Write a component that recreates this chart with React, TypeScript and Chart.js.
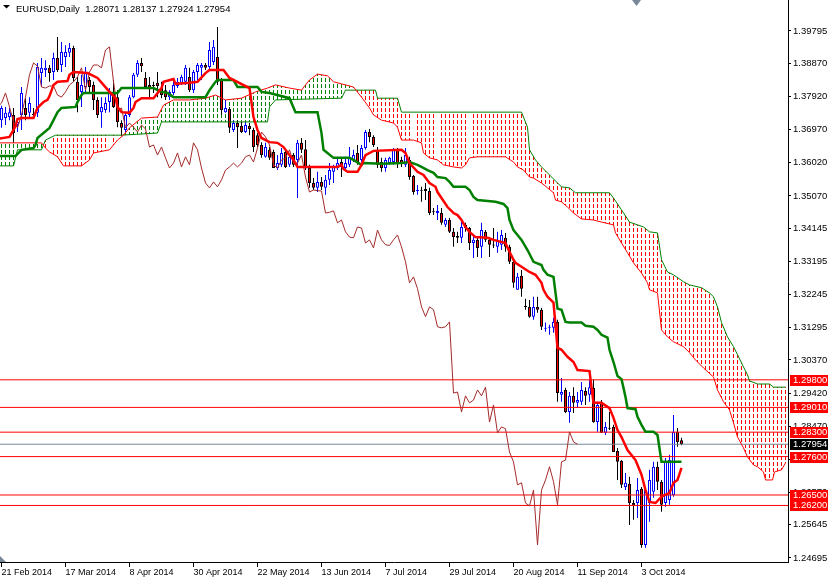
import React, { useEffect, useRef } from 'react';
import { Chart, registerables } from 'chart.js';

Chart.register(...registerables);

// ---------- data (EURUSD daily) ----------
const xTickBars = [0, 16, 32, 48, 64, 80, 96, 112, 128, 144, 160];
const xTickLabels = ['21 Feb 2014', '17 Mar 2014', '8 Apr 2014', '30 Apr 2014', '22 May 2014', '13 Jun 2014', '7 Jul 2014', '29 Jul 2014', '20 Aug 2014', '11 Sep 2014', '3 Oct 2014'];
const yTickValues = [1.24695, 1.25645, 1.2657, 1.2752, 1.2847, 1.2942, 1.3037, 1.31295, 1.32245, 1.33195, 1.34145, 1.3507, 1.3602, 1.3697, 1.3792, 1.3887, 1.39795];

const opens = [
  1.3724, 1.3730, 1.3733, 1.3739, 1.3710, 1.3739, 1.3759, 1.3745, 1.3742, 1.3745,
  1.3859, 1.3868, 1.3874, 1.3862, 1.3902, 1.3882, 1.3905, 1.3917, 1.3931, 1.3834,
  1.3805, 1.3819, 1.3839, 1.3825, 1.3782, 1.3747, 1.3753, 1.3776, 1.3802, 1.3790,
  1.3716, 1.3696, 1.3739, 1.3790, 1.3854, 1.3888, 1.3845, 1.3825, 1.3825, 1.3831,
  1.3816, 1.3810, 1.3790, 1.3802, 1.3822, 1.3831, 1.3834, 1.3848, 1.3810, 1.3862,
  1.3874, 1.3882, 1.3876, 1.3891, 1.3905, 1.3839, 1.3747, 1.3756, 1.3696, 1.3716,
  1.3707, 1.3690, 1.3707, 1.3696, 1.3681, 1.3653, 1.3619, 1.3639, 1.3633, 1.3587,
  1.3596, 1.3633, 1.3596, 1.3624, 1.3610, 1.3659, 1.3641, 1.3587, 1.3544, 1.3530,
  1.3547, 1.3530, 1.3553, 1.3576, 1.3587, 1.3604, 1.3587, 1.3596, 1.3610, 1.3630,
  1.3610, 1.3644, 1.3690, 1.3676, 1.3639, 1.3604, 1.3587, 1.3601, 1.3604, 1.3639,
  1.3610, 1.3596, 1.3610, 1.3564, 1.3521, 1.3524, 1.3527, 1.3521, 1.3461, 1.3458,
  1.3458, 1.3424, 1.3438, 1.3404, 1.3392, 1.3387, 1.3424, 1.3415, 1.3372, 1.3381,
  1.3361, 1.3404, 1.3381, 1.3367, 1.3361, 1.3367, 1.3387, 1.3361, 1.3318, 1.3238,
  1.3278, 1.3192, 1.3189, 1.3161, 1.3189, 1.3181, 1.3126, 1.3129, 1.3129, 1.3146,
  1.2937, 1.2951, 1.2888, 1.2934, 1.2914, 1.2917, 1.2948, 1.2937, 1.2957, 1.2859,
  1.2917, 1.2828, 1.2842, 1.2845, 1.2776, 1.2748, 1.2673, 1.2682, 1.2627, 1.2627,
  1.2668, 1.2507, 1.2627, 1.2659, 1.2731, 1.2688, 1.2627, 1.2636, 1.2650, 1.2831,
  1.28071,
];
const highs = [
  1.3765, 1.3762, 1.3759, 1.3759, 1.3730, 1.3819, 1.3787, 1.3790, 1.3759, 1.3888,
  1.3902, 1.3896, 1.3882, 1.3917, 1.3962, 1.3948, 1.3939, 1.3945, 1.3937, 1.3848,
  1.3854, 1.3876, 1.3848, 1.3834, 1.3790, 1.3790, 1.3790, 1.3816, 1.3839, 1.3810,
  1.3724, 1.3745, 1.3796, 1.3859, 1.3896, 1.3902, 1.3862, 1.3848, 1.3834, 1.3862,
  1.3834, 1.3825, 1.3810, 1.3839, 1.3845, 1.3854, 1.3882, 1.3874, 1.3868, 1.3888,
  1.3888, 1.3888, 1.3948, 1.3954, 1.3991, 1.3845, 1.3782, 1.3762, 1.3724, 1.3724,
  1.3719, 1.3719, 1.3716, 1.3702, 1.3687, 1.3661, 1.3659, 1.3647, 1.3639, 1.3624,
  1.3644, 1.3639, 1.3624, 1.3630, 1.3667, 1.3673, 1.3667, 1.3596, 1.3558, 1.3576,
  1.3561, 1.3567, 1.3601, 1.3596, 1.3616, 1.3616, 1.3619, 1.3647, 1.3639, 1.3653,
  1.3653, 1.3696, 1.3699, 1.3681, 1.3647, 1.3616, 1.3616, 1.3619, 1.3644, 1.3644,
  1.3619, 1.3644, 1.3619, 1.3567, 1.3538, 1.3533, 1.3544, 1.3530, 1.3472, 1.3481,
  1.3472, 1.3444, 1.3444, 1.3415, 1.3404, 1.3441, 1.3430, 1.3418, 1.3389, 1.3389,
  1.3430, 1.3409, 1.3389, 1.3415, 1.3404, 1.3409, 1.3401, 1.3367, 1.3324, 1.3286,
  1.3295, 1.3212, 1.3209, 1.3218, 1.3218, 1.3186, 1.3144, 1.3138, 1.3158, 1.3152,
  1.2985, 1.2957, 1.2945, 1.2959, 1.2945, 1.2974, 1.2959, 1.2980, 1.2980, 1.2917,
  1.2922, 1.2859, 1.2888, 1.2851, 1.2785, 1.2750, 1.2713, 1.2702, 1.2636, 1.2699,
  1.2673, 1.2673, 1.2722, 1.2745, 1.2745, 1.2693, 1.2756, 1.2765, 1.2879, 1.2842,
  1.28137,
];
const lows = [
  1.3702, 1.3710, 1.3724, 1.3659, 1.3690, 1.3696, 1.3724, 1.3733, 1.3733, 1.3733,
  1.3819, 1.3848, 1.3834, 1.3839, 1.3862, 1.3862, 1.3876, 1.3905, 1.3834, 1.3747,
  1.3762, 1.3805, 1.3802, 1.3753, 1.3730, 1.3702, 1.3745, 1.3747, 1.3759, 1.3704,
  1.3681, 1.3690, 1.3733, 1.3787, 1.3848, 1.3862, 1.3816, 1.3790, 1.3802, 1.3790,
  1.3787, 1.3782, 1.3782, 1.3796, 1.3816, 1.3825, 1.3825, 1.3805, 1.3802, 1.3839,
  1.3839, 1.3868, 1.3868, 1.3882, 1.3825, 1.3739, 1.3745, 1.3687, 1.3690, 1.3644,
  1.3687, 1.3687, 1.3681, 1.3633, 1.3647, 1.3616, 1.3616, 1.3610, 1.3587, 1.3581,
  1.3590, 1.3587, 1.3590, 1.3590, 1.3501, 1.3630, 1.3581, 1.3530, 1.3524, 1.3518,
  1.3524, 1.3510, 1.3538, 1.3544, 1.3581, 1.3561, 1.3581, 1.3590, 1.3604, 1.3596,
  1.3604, 1.3639, 1.3661, 1.3647, 1.3587, 1.3576, 1.3576, 1.3596, 1.3596, 1.3587,
  1.3590, 1.3590, 1.3553, 1.3510, 1.3510, 1.3490, 1.3495, 1.3452, 1.3452, 1.3438,
  1.3424, 1.3418, 1.3401, 1.3361, 1.3372, 1.3372, 1.3404, 1.3352, 1.3329, 1.3332,
  1.3329, 1.3375, 1.3332, 1.3358, 1.3344, 1.3352, 1.3347, 1.3312, 1.3244, 1.3238,
  1.3218, 1.3181, 1.3158, 1.3152, 1.3172, 1.3123, 1.3118, 1.3109, 1.3115, 1.2917,
  1.2917, 1.2885, 1.2857, 1.2885, 1.2899, 1.2908, 1.2908, 1.2917, 1.2857, 1.2831,
  1.2828, 1.2822, 1.2836, 1.2773, 1.2693, 1.2670, 1.2664, 1.2564, 1.2579, 1.2584,
  1.2499, 1.2499, 1.2573, 1.2642, 1.2664, 1.2602, 1.2616, 1.2622, 1.2645, 1.2788,
  1.27924,
];
const closes = [
  1.3759, 1.3745, 1.3747, 1.3687, 1.3719, 1.3802, 1.3739, 1.3773, 1.3739, 1.3876,
  1.3874, 1.3874, 1.3859, 1.3902, 1.3868, 1.3919, 1.3919, 1.3931, 1.3845, 1.3782,
  1.3825, 1.3862, 1.3819, 1.3782, 1.3739, 1.3762, 1.3773, 1.3802, 1.3762, 1.3719,
  1.3702, 1.3739, 1.3790, 1.3854, 1.3888, 1.3879, 1.3819, 1.3816, 1.3822, 1.3822,
  1.3796, 1.3790, 1.3805, 1.3825, 1.3834, 1.3848, 1.3874, 1.3810, 1.3862, 1.3882,
  1.3882, 1.3874, 1.3925, 1.3934, 1.3834, 1.3753, 1.3759, 1.3702, 1.3716, 1.3704,
  1.3690, 1.3710, 1.3699, 1.3647, 1.3653, 1.3624, 1.3647, 1.3616, 1.3587, 1.3601,
  1.3630, 1.3590, 1.3619, 1.3596, 1.3659, 1.3639, 1.3587, 1.3544, 1.3530, 1.3547,
  1.3533, 1.3553, 1.3581, 1.3590, 1.3601, 1.3590, 1.3601, 1.3619, 1.3624, 1.3604,
  1.3644, 1.3690, 1.3676, 1.3653, 1.3596, 1.3587, 1.3610, 1.3616, 1.3639, 1.3601,
  1.3601, 1.3624, 1.3561, 1.3518, 1.3524, 1.3522, 1.3521, 1.3458, 1.3460, 1.3464,
  1.3430, 1.3438, 1.3404, 1.3389, 1.3387, 1.3418, 1.3415, 1.3372, 1.3381, 1.3358,
  1.3409, 1.3381, 1.3367, 1.3365, 1.3381, 1.3395, 1.3361, 1.3318, 1.3258, 1.3275,
  1.3241, 1.3189, 1.3161, 1.3189, 1.3181, 1.3132, 1.3129, 1.3132, 1.3146, 1.2942,
  1.2945, 1.2888, 1.2934, 1.2914, 1.2922, 1.2951, 1.2934, 1.2959, 1.2859, 1.2908,
  1.2828, 1.2845, 1.2840, 1.2773, 1.2745, 1.2679, 1.2685, 1.2627, 1.2619, 1.2664,
  1.2507, 1.2664, 1.2693, 1.2731, 1.2688, 1.2622, 1.2745, 1.2750, 1.2831, 1.2802,
  1.27954,
];

// Ichimoku lines as [bar, price] vertices
const tenkanPts = [
  [-1, 1.3670], [2, 1.3676], [3, 1.3696], [3.5, 1.3707], [4, 1.3727], [5, 1.3730], [8, 1.3730], [8.5, 1.3745], [9, 1.3759], [10.5, 1.3776],
  [11.5, 1.3782], [12, 1.3793], [13, 1.3825], [14, 1.3834], [16.5, 1.3836], [17, 1.3854], [18, 1.3862], [21.5, 1.3859], [24, 1.3845], [25.5, 1.3825],
  [27, 1.3805], [28.5, 1.3787], [29, 1.3762], [30, 1.3747], [32, 1.3745], [33, 1.3759], [33.5, 1.3776], [35, 1.3787], [38, 1.3787], [40, 1.3816],
  [40.5, 1.3834], [43, 1.3842], [43.5, 1.3828], [47, 1.3831], [49, 1.3834], [51, 1.3859], [52, 1.3868], [55.5, 1.3868], [57, 1.3845], [62, 1.3816],
  [63, 1.3733], [64, 1.3696], [65, 1.3673], [67, 1.3661], [69, 1.3659], [70.5, 1.3647], [72, 1.3624], [73, 1.3610], [74, 1.3590], [84, 1.3590],
  [85, 1.3596], [85.5, 1.3584], [86.5, 1.3576], [89, 1.3576], [90, 1.3596], [91, 1.3624], [93, 1.3636], [100, 1.3639], [101, 1.3630], [102, 1.3601],
  [104, 1.3576], [105.5, 1.3567], [107, 1.3544], [108.5, 1.3533], [109, 1.3518], [110, 1.3501], [111.5, 1.3475], [113, 1.3458], [114, 1.3452], [115, 1.3438],
  [116, 1.3418], [117, 1.3404], [118.5, 1.3389], [121.5, 1.3387], [123, 1.3381], [126, 1.3372], [127, 1.3347], [128, 1.3324], [128.5, 1.3315], [130, 1.3304],
  [132, 1.3289], [133.5, 1.3281], [135, 1.3258], [135.5, 1.3238], [136.5, 1.3218], [138, 1.3201], [139, 1.3072], [140, 1.3066], [141.5, 1.3046], [143, 1.3031],
  [144, 1.3008], [147, 1.3005], [148, 1.2914], [150, 1.2914], [152, 1.2899], [153, 1.2871], [154, 1.2836], [155, 1.2816], [156.5, 1.2779], [158.5, 1.2750],
  [160, 1.2708], [161, 1.2664], [162, 1.2630], [163.5, 1.2627], [165, 1.2645], [167, 1.2656], [168, 1.2685], [169, 1.2693], [170, 1.2728],
];
const kijunPts = [
  [-1, 1.3621], [3.5, 1.3621], [5, 1.3639], [8, 1.3644], [8.5, 1.3653], [9, 1.3673], [12, 1.3702], [13, 1.3724], [14, 1.3747], [15, 1.3759],
  [18.5, 1.3762], [19, 1.3776], [20, 1.3796], [20.5, 1.3802], [29, 1.3802], [30, 1.3816], [38, 1.3816], [40, 1.3805], [41.5, 1.3802], [43, 1.3790],
  [51, 1.3790], [52, 1.3810], [53.5, 1.3834], [54, 1.3839], [58, 1.3839], [59, 1.3819], [64, 1.3819], [65, 1.3805], [67, 1.3802], [72, 1.3787],
  [73.5, 1.3747], [79, 1.3747], [80, 1.3687], [80.5, 1.3639], [83, 1.3616], [87, 1.3616], [88, 1.3610], [90, 1.3596], [90.5, 1.3601], [95, 1.3599],
  [100, 1.3601], [102, 1.3604], [104, 1.3596], [105, 1.3590], [106.5, 1.3581], [108, 1.3573], [109, 1.3561], [111, 1.3558], [112, 1.3547], [113, 1.3533],
  [116, 1.3533], [117, 1.3524], [118, 1.3504], [119, 1.3495], [123.5, 1.3490], [125.5, 1.3484], [126.5, 1.3472], [127, 1.3438], [128, 1.3409], [130, 1.3381],
  [131.5, 1.3352], [133, 1.3318], [135, 1.3309], [135.5, 1.3295], [136.5, 1.3281], [138, 1.3275], [139, 1.3184], [140, 1.3181], [141, 1.3146], [142, 1.3144],
  [145, 1.3144], [146, 1.3135], [148, 1.3132], [149, 1.3123], [150, 1.3109], [151.5, 1.3101], [152, 1.3066], [153, 1.3031], [154, 1.2991], [155, 1.2982],
  [155.5, 1.2957], [156, 1.2931], [156.5, 1.2899], [158.5, 1.2896], [159, 1.2874], [160, 1.2851], [161, 1.2831], [163, 1.2831], [164, 1.2822], [165, 1.2745],
  [170, 1.2745],
];
const spanAPts = [
  [-1, 1.3659], [10, 1.3659], [11, 1.3644], [12, 1.3633], [14, 1.3619], [15.5, 1.3593], [20, 1.3593], [22, 1.3610], [23, 1.3630], [27, 1.3639],
  [29, 1.3667], [30.5, 1.3681], [32, 1.3702], [35, 1.3730], [39, 1.3733], [40.5, 1.3767], [43, 1.3782], [47, 1.3782], [51, 1.3787], [53.5, 1.3796],
  [56, 1.3782], [60, 1.3787], [63.5, 1.3805], [66.5, 1.3816], [68.5, 1.3825], [72, 1.3816], [75, 1.3810], [76, 1.3825], [77, 1.3839], [79, 1.3856],
  [81.5, 1.3851], [83, 1.3834], [85, 1.3828], [88, 1.3819], [90, 1.3790], [92, 1.3759], [93, 1.3739], [95, 1.3724], [98, 1.3716], [99, 1.3704],
  [100, 1.3667], [103, 1.3667], [105, 1.3659], [105.5, 1.3630], [107, 1.3616], [109, 1.3610], [110.5, 1.3596], [113, 1.3590], [115, 1.3587], [116, 1.3596],
  [117, 1.3616], [119, 1.3619], [126, 1.3619], [128, 1.3604], [129, 1.3590], [130.5, 1.3581], [132, 1.3561], [133, 1.3558], [135, 1.3544], [136.5, 1.3530],
  [138, 1.3516], [138.5, 1.3495], [140, 1.3490], [141.5, 1.3475], [143, 1.3458], [145, 1.3441], [148, 1.3438], [150, 1.3432], [153, 1.3424], [153.5, 1.3401],
  [155, 1.3372], [156.5, 1.3344], [158, 1.3315], [160, 1.3286], [161.5, 1.3258], [162, 1.3238], [164, 1.3229], [165, 1.3123], [166.5, 1.3103], [168, 1.3089],
  [170.5, 1.3075], [172, 1.3058], [173.5, 1.3037], [175.5, 1.3014], [178, 1.2988], [179, 1.2951], [180.5, 1.2917], [182, 1.2894], [183, 1.2857], [184, 1.2816],
  [185.5, 1.2785], [186.5, 1.2759], [188, 1.2736], [189, 1.2731], [190.5, 1.2716], [191, 1.2693], [192.75, 1.2693], [193.25, 1.2716], [195, 1.2722], [196, 1.2742],
];
const spanBPts = [
  [-1, 1.3593], [3, 1.3593], [4, 1.3639], [10, 1.3639], [11, 1.3667], [13.5, 1.3681], [30, 1.3681], [39, 1.3687], [40, 1.3719], [66.5, 1.3719],
  [67, 1.3762], [68.5, 1.3782], [85, 1.3787], [86, 1.3810], [93.5, 1.3810], [94, 1.3787], [99, 1.3787], [100, 1.3747], [130, 1.3747], [131.5, 1.3704],
  [132, 1.3639], [133.5, 1.3610], [135, 1.3590], [137, 1.3567], [139, 1.3544], [140, 1.3533], [142, 1.3530], [143.5, 1.3516], [152, 1.3516], [153, 1.3501],
  [155, 1.3467], [157, 1.3432], [160.5, 1.3418], [162, 1.3404], [164, 1.3401], [165, 1.3324], [166.5, 1.3289], [168, 1.3281], [170.5, 1.3261], [172, 1.3252],
  [175, 1.3244], [177, 1.3229], [178, 1.3218], [179, 1.3189], [180, 1.3144], [181.5, 1.3103], [183, 1.3075], [184, 1.3052], [185.5, 1.3017], [186.5, 1.2994],
  [187, 1.2977], [189, 1.2968], [192, 1.2968], [193, 1.2959], [196, 1.2959],
];
const chikouShift = 26;
const cloudLastBar = 196;

const levels = [1.298, 1.2901, 1.283, 1.276, 1.265, 1.262];
const currentPrice = 1.27954;
const symbolTitle = 'EURUSD,Daily';

// ---------- styling ----------
const FONT = '"Liberation Sans", Arial, sans-serif';
const X_MIN = -0.375;
const X_MAX = 196.625;
const Y_MIN = 1.2458;
const Y_MAX = 1.40683;
const SPAN_A_INDEX = 3;
const SPAN_B_INDEX = 4;

const overlayPlugin = {
  id: 'mtOverlay',
  afterDraw(chart: any) {
    const ctx = chart.ctx as CanvasRenderingContext2D;
    const yScale = chart.scales.y;
    ctx.save();
    ctx.fillStyle = '#000';
    ctx.beginPath();
    ctx.moveTo(3, 5);
    ctx.lineTo(10, 5);
    ctx.lineTo(6.5, 8.5);
    ctx.closePath();
    ctx.fill();
    const n = closes.length - 1;
    const title = `${symbolTitle}  ${opens[n].toFixed(5)} ${highs[n].toFixed(5)} ${lows[n].toFixed(5)} ${closes[n].toFixed(5)}`;
    ctx.font = `9.5px ${FONT}`;
    ctx.textAlign = 'left';
    ctx.textBaseline = 'alphabetic';
    ctx.fillText(title, 16, 11.5);

    ctx.fillStyle = '#778899';
    ctx.beginPath();
    ctx.moveTo(632, 0);
    ctx.lineTo(641, 0);
    ctx.lineTo(636.5, 6);
    ctx.closePath();
    ctx.fill();
    ctx.beginPath();
    ctx.moveTo(0, 556);
    ctx.lineTo(0, 562);
    ctx.lineTo(6, 562);
    ctx.closePath();
    ctx.fill();

    const drawLabel = (v: number, bg: string) => {
      const py = Math.round(yScale.getPixelForValue(v));
      ctx.fillStyle = bg;
      ctx.fillRect(790, py - 5, 38, 11);
      ctx.fillStyle = '#ffffff';
      ctx.textBaseline = 'middle';
      ctx.fillText(v.toFixed(5), 793, py + 0.5);
    };
    levels.forEach((v) => drawLabel(v, '#ff0000'));
    drawLabel(currentPrice, '#000000');
    ctx.restore();
  },
};

// Kumo hatch: at each bar, a dotted vertical stroke between the Senkou A and
// Senkou B lines, taken from the line elements Chart.js laid out on its scales
const cloudPlugin = {
  id: 'kumo',
  beforeDatasetsDraw(chart: any) {
    const c = chart.ctx as CanvasRenderingContext2D;
    const xScale = chart.scales.x;
    const lineA = chart.getDatasetMeta(SPAN_A_INDEX).dataset;
    const lineB = chart.getDatasetMeta(SPAN_B_INDEX).dataset;
    if (!lineA || !lineB) return;
    const { left, right, top, bottom } = chart.chartArea;
    const red: number[][] = [];
    const green: number[][] = [];
    for (let i = 0; i <= cloudLastBar; i++) {
      const px = Math.floor(xScale.getPixelForValue(i)) + 0.5;
      const pa = lineA.interpolate({ x: px }, 'x');
      const pb = lineB.interpolate({ x: px }, 'x');
      if (!pa || !pb) continue;
      const ya = pa.y;
      const yb = pb.y;
      if (Math.abs(ya - yb) < 0.5) continue;
      if (yb < ya) red.push([px, yb, ya]);
      else green.push([px, ya, yb]);
    }
    const drawSet = (set: number[][], color: string) => {
      c.beginPath();
      for (const [px, y0, y1] of set) {
        const s = Math.round(y0);
        const e = Math.round(y1);
        for (let y = s; y < e; y++) {
          if (((y % 6) + 6) % 6 < 4) {
            c.rect(px - 0.5, y, 1, 1);
          }
        }
      }
      c.fillStyle = color;
      c.fill();
    };
    c.save();
    c.beginPath();
    c.rect(left, top, right - left, bottom - top);
    c.clip();
    drawSet(red, 'rgb(255,0,0)');
    drawSet(green, 'rgb(0,128,0)');
    c.restore();
  },
};

export default function App() {
  const ref = useRef<HTMLCanvasElement>(null);

  useEffect(() => {
    document.body.style.margin = '0';
    const canvas = ref.current!;
    const ctx = canvas.getContext('2d')!;

    const up = opens.map((o, i) => closes[i] >= o);
    const toXY = (pts: number[][]) => pts.map(([x, y]) => ({ x, y }));
    const lineBase = { type: 'line', pointRadius: 0, tension: 0, fill: false };

    const levelSets = [
      ...levels.map((v) => ({ ...lineBase, data: [{ x: X_MIN - 1, y: v }, { x: X_MAX + 1, y: v }], borderColor: '#ff0000', borderWidth: 1 })),
      { ...lineBase, data: [{ x: X_MIN - 1, y: currentPrice }, { x: X_MAX + 1, y: currentPrice }], borderColor: '#778899', borderWidth: 1 },
    ];

    const datasets: any[] = [
      { ...lineBase, label: 'Tenkan', data: toXY(tenkanPts), borderColor: '#ff0000', borderWidth: 2.5 },
      { ...lineBase, label: 'Kijun', data: toXY(kijunPts), borderColor: '#008000', borderWidth: 2.5 },
      { ...lineBase, label: 'Chikou', data: closes.map((c, i) => ({ x: i - chikouShift, y: c })), borderColor: '#a52a2a', borderWidth: 1 },
      { ...lineBase, label: 'SpanA', data: toXY(spanAPts), borderColor: '#ff0000', borderWidth: 1 },
      { ...lineBase, label: 'SpanB', data: toXY(spanBPts), borderColor: '#008000', borderWidth: 1 },
      ...levelSets,
      {
        type: 'bar',
        label: 'Body',
        data: opens.map((o, i) => ({ x: i, y: [o, closes[i]] })),
        backgroundColor: up.map((u) => (u ? '#ffffff' : '#ff0000')),
        borderColor: up.map((u) => (u ? '#0000ff' : '#000000')),
        borderWidth: 1,
        borderSkipped: false,
        barThickness: 3,
        minBarLength: 1,
        grouped: false,
        inflateAmount: 0,
      },
      {
        type: 'bar',
        label: 'Wick',
        data: highs.map((h, i) => ({ x: i, y: [lows[i], h] })),
        backgroundColor: up.map((u) => (u ? '#0000ff' : '#000000')),
        borderWidth: 0,
        barThickness: 1,
        grouped: false,
        inflateAmount: 0,
      },
    ];

    const chart = new Chart(ctx, {
      type: 'line',
      data: { datasets },
      options: {
        responsive: false,
        maintainAspectRatio: false,
        devicePixelRatio: 1,
        animation: false,
        events: [],
        layout: { padding: 0 },
        plugins: {
          legend: { display: false },
          tooltip: { enabled: false },
        },
        scales: {
          x: {
            type: 'linear',
            position: 'bottom',
            min: X_MIN,
            max: X_MAX,
            offset: false,
            grid: { display: true, drawOnChartArea: false, drawTicks: true, tickLength: 5, color: '#000000', offset: false },
            border: { display: true, color: '#000000', width: 1 },
            ticks: {
              autoSkip: false,
              maxRotation: 0,
              minRotation: 0,
              align: 'start',
              padding: 0,
              color: '#000000',
              font: { family: FONT, size: 9 },
              callback: (v: any) => {
                const k = xTickBars.indexOf(Number(v));
                return k >= 0 ? xTickLabels[k] : '';
              },
            },
            afterBuildTicks: (s: any) => {
              s.ticks = xTickBars.map((v) => ({ value: v }));
            },
            afterFit: (s: any) => {
              s.height = 16;
              s.paddingLeft = 0;
              s.paddingRight = 0;
            },
          },
          y: {
            type: 'linear',
            position: 'right',
            min: Y_MIN,
            max: Y_MAX,
            beginAtZero: false,
            grid: { display: true, drawOnChartArea: false, drawTicks: true, tickLength: 3, color: '#000000' },
            border: { display: true, color: '#000000', width: 1 },
            ticks: {
              padding: 2,
              color: '#000000',
              font: { family: FONT, size: 9.5 },
              callback: (v: any) => Number(v).toFixed(5),
            },
            afterBuildTicks: (s: any) => {
              s.ticks = yTickValues.map((v) => ({ value: v }));
            },
            afterFit: (s: any) => {
              s.width = 40;
              s.paddingTop = 0;
              s.paddingBottom = 0;
            },
          },
        },
      } as any,
      plugins: [cloudPlugin, overlayPlugin],
    } as any);

    return () => chart.destroy();
  }, []);

  return (
    <canvas ref={ref} width={828} height={578} style={{ display: 'block', width: 828, height: 578 }} />
  );
}
